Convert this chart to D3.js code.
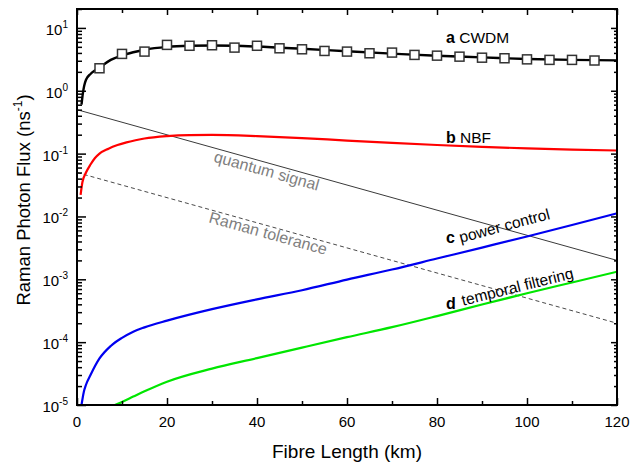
<!DOCTYPE html>
<html>
<head>
<meta charset="utf-8">
<script src="https://cdn.jsdelivr.net/npm/d3@7"></script>
<style>
  html, body { margin: 0; padding: 0; background: #fff; }
  svg { display: block; font-family: "Liberation Sans", Arial, sans-serif; }
</style>
</head>
<body>
<svg id="chart" width="631" height="462"></svg>
<script>
// ---------------- data ----------------
const xTickValues = [0, 20, 40, 60, 80, 100, 120];
const xMinorValues = [10, 30, 50, 70, 90, 110];
const yExponents = [-5, -4, -3, -2, -1, 0, 1];

// (a) CWDM - smooth curve
const cwdmLineKm  = [1, 1.3, 1.6, 2, 3, 4, 5, 7.5, 10, 12.5, 15, 20, 25, 30, 35, 40, 50, 60, 70, 80, 90, 100, 110, 120];
const cwdmLineVal = [0.6, 0.9, 1.2, 1.5, 1.85, 2.1, 2.35, 3.1, 3.65, 4.1, 4.5, 5.0, 5.2, 5.25, 5.2, 5.05, 4.65, 4.25, 3.9, 3.6, 3.4, 3.2, 3.1, 3.05];
// (a) CWDM - measured points (squares)
const cwdmPtsKm  = [5, 10, 15, 20, 25, 30, 35, 40, 45, 50, 55, 60, 65, 70, 75, 80, 85, 90, 95, 100, 105, 110, 115];
const cwdmPtsVal = [2.28, 3.86, 4.2, 5.37, 5.2, 5.3, 4.86, 5.2, 4.74, 4.57, 4.3, 4.2, 3.95, 4.05, 3.72, 3.62, 3.49, 3.36, 3.29, 3.16, 3.1, 3.1, 3.03];

// (b) NBF
const nbfKm  = [0.8, 1.2, 2, 3, 4, 5, 7, 9, 11, 13, 15, 20, 25, 30, 40, 50, 60, 70, 80, 90, 100, 110, 120];
const nbfVal = [0.022, 0.035, 0.05, 0.067, 0.085, 0.1, 0.12, 0.137, 0.151, 0.163, 0.174, 0.19, 0.197, 0.198, 0.19, 0.177, 0.161, 0.148, 0.137, 0.128, 0.121, 0.116, 0.112];

// (c) power control
const powerKm  = [1.0, 1.5, 2, 3, 5, 7.5, 10, 12.5, 15, 20, 30, 40, 50, 60, 70, 80, 90, 100, 110, 120];
const powerVal = [1e-5, 1.6e-5, 2.1e-5, 3.0e-5, 5.5e-5, 8.7e-5, 1.17e-4, 1.47e-4, 1.72e-4, 2.2e-4, 3.35e-4, 4.8e-4, 6.7e-4, 9.9e-4, 1.43e-3, 2.14e-3, 3.2e-3, 4.8e-3, 7.3e-3, 1.12e-2];

// (d) temporal filtering
const temporalKm  = [8.4, 10, 12.5, 15, 20, 30, 40, 50, 60, 70, 80, 90, 100, 110, 120];
const temporalVal = [1e-5, 1.12e-5, 1.36e-5, 1.65e-5, 2.35e-5, 3.8e-5, 5.57e-5, 8.2e-5, 1.2e-4, 1.73e-4, 2.6e-4, 3.97e-4, 6.0e-4, 8.9e-4, 1.32e-3];

// quantum signal & Raman tolerance (straight lines on log axis)
const quantumKm  = [0, 120];
const quantumVal = [0.5, 0.002];
const toleranceKm  = [0, 120];
const toleranceVal = [0.05, 0.0002];

// ---------------- layout ----------------
const svg = d3.select("#chart");
const L = 77, R = 617, T = 9, B = 405;
const x = d3.scaleLinear().domain([0, 120]).range([L, R]);
const y = d3.scaleLog().domain([1e-5, 20]).range([B, T]);

const zip = (a, b) => a.map((d, i) => [d, b[i]]);

svg.append("defs").append("clipPath").attr("id", "clip")
  .append("rect").attr("x", L).attr("y", T).attr("width", R - L).attr("height", B - T);

const plot = svg.append("g").attr("clip-path", "url(#clip)");

const line = d3.line().x(d => x(d[0])).y(d => y(d[1])).curve(d3.curveMonotoneX);
const straight = d3.line().x(d => x(d[0])).y(d => y(d[1]));

plot.append("path").datum(zip(quantumKm, quantumVal)).attr("d", straight)
  .attr("fill", "none").attr("stroke", "#3a3a3a").attr("stroke-width", 1);
plot.append("path").datum(zip(toleranceKm, toleranceVal)).attr("d", straight)
  .attr("fill", "none").attr("stroke", "#4a4a4a").attr("stroke-width", 1).attr("stroke-dasharray", "4,3");

plot.append("path").datum(zip(nbfKm, nbfVal)).attr("d", line)
  .attr("fill", "none").attr("stroke", "#ff0000").attr("stroke-width", 2.2);
plot.append("path").datum(zip(powerKm, powerVal)).attr("d", line)
  .attr("fill", "none").attr("stroke", "#0000f0").attr("stroke-width", 2.2);
plot.append("path").datum(zip(temporalKm, temporalVal)).attr("d", line)
  .attr("fill", "none").attr("stroke", "#00e600").attr("stroke-width", 2.2);
plot.append("path").datum(zip(cwdmLineKm, cwdmLineVal)).attr("d", line)
  .attr("fill", "none").attr("stroke", "#000").attr("stroke-width", 2.4);

const sq = 9;
plot.selectAll("rect.pt").data(zip(cwdmPtsKm, cwdmPtsVal)).enter().append("rect")
  .attr("class", "pt")
  .attr("x", d => x(d[0]) - sq / 2).attr("y", d => y(d[1]) - sq / 2)
  .attr("width", sq).attr("height", sq)
  .attr("fill", "#fff").attr("stroke", "#333").attr("stroke-width", 1.5);

// ---------------- axes ----------------
const yMajor = yExponents.map(e => Math.pow(10, e));
const yMinor = [];
yExponents.forEach(e => { for (let k = 2; k <= 9; k++) { const v = k * Math.pow(10, e); if (v <= 20) yMinor.push(v); } });

function styleAxis(g) {
  g.select(".domain").remove();
  g.selectAll(".tick line").attr("stroke", "#000").attr("stroke-width", 1.5);
  g.selectAll(".tick text").remove();
}

svg.append("g").attr("transform", `translate(0,${B})`)
  .call(d3.axisBottom(x).tickValues(xTickValues).tickSize(-7)).call(styleAxis);
svg.append("g").attr("transform", `translate(0,${B})`)
  .call(d3.axisBottom(x).tickValues(xMinorValues).tickSize(-4)).call(styleAxis);
svg.append("g").attr("transform", `translate(0,${T})`)
  .call(d3.axisTop(x).tickValues(xTickValues).tickSize(-6)).call(styleAxis);
svg.append("g").attr("transform", `translate(0,${T})`)
  .call(d3.axisTop(x).tickValues(xMinorValues).tickSize(-4)).call(styleAxis);

svg.append("g").attr("transform", `translate(${L},0)`)
  .call(d3.axisLeft(y).tickValues(yMajor).tickSize(-9)).call(styleAxis);
svg.append("g").attr("transform", `translate(${L},0)`)
  .call(d3.axisLeft(y).tickValues(yMinor).tickSize(-5)).call(styleAxis);
svg.append("g").attr("transform", `translate(${R},0)`)
  .call(d3.axisRight(y).tickValues(yMajor).tickSize(-6)).call(styleAxis);
svg.append("g").attr("transform", `translate(${R},0)`)
  .call(d3.axisRight(y).tickValues(yMinor).tickSize(-3)).call(styleAxis);

// frame
svg.append("rect").attr("x", L).attr("y", T).attr("width", R - L).attr("height", B - T)
  .attr("fill", "none").attr("stroke", "#000").attr("stroke-width", 2);

// tick labels
svg.append("g").selectAll("text").data(xTickValues).enter().append("text")
  .attr("x", d => x(d)).attr("y", B + 22).attr("text-anchor", "middle")
  .attr("font-size", 15).attr("fill", "#000").text(d => d);

const yl = svg.append("g").selectAll("text").data(yExponents).enter().append("text")
  .attr("x", L - 9).attr("y", d => y(Math.pow(10, d)) + 7)
  .attr("text-anchor", "end").attr("font-size", 15).attr("fill", "#000");
yl.append("tspan").text("10");
yl.append("tspan").attr("font-size", 10).attr("dy", -7).text(d => d < 0 ? "-" + (-d) : String(d));

// axis titles
svg.append("text").attr("x", (L + R) / 2).attr("y", 458).attr("text-anchor", "middle")
  .attr("font-size", 19).attr("fill", "#000").text("Fibre Length (km)");

const yt = svg.append("text").attr("transform", `translate(30,${(T + B) / 2 - 7}) rotate(-90)`)
  .attr("text-anchor", "middle").attr("font-size", 18.5).attr("fill", "#000");
yt.append("tspan").text("Raman Photon Flux (ns");
yt.append("tspan").attr("font-size", 12).attr("dy", -8).text("-1");
yt.append("tspan").attr("dy", 8).text(")");

// annotations
function seriesLabel(letter, rest, km, val) {
  const t = svg.append("text").attr("x", x(km)).attr("y", y(val)).attr("fill", "#000");
  t.append("tspan").attr("font-weight", "bold").attr("font-size", 16).text(letter);
  t.append("tspan").attr("font-size", 15.5).text(" " + rest);
}
seriesLabel("a", "CWDM", 82, 5.7);
seriesLabel("b", "NBF", 82, 0.146);

svg.append("text").attr("x", x(82)).attr("y", y(3.8e-3)).attr("font-weight", "bold")
  .attr("font-size", 16).attr("fill", "#000").text("c");
svg.append("text").attr("transform", `translate(${x(85.3)},${y(3.8e-3)}) rotate(-15)`)
  .attr("font-size", 15.5).attr("fill", "#000").text("power control");

svg.append("text").attr("x", x(82)).attr("y", y(3.4e-4)).attr("font-weight", "bold")
  .attr("font-size", 16).attr("fill", "#000").text("d");
svg.append("text").attr("transform", `translate(${x(85.8)},${y(3.8e-4)}) rotate(-14)`)
  .attr("font-size", 15.5).attr("fill", "#000").text("temporal filtering");

svg.append("text").attr("transform", `translate(${x(30.2)},${y(0.075)}) rotate(15.6)`)
  .attr("font-size", 16).attr("fill", "#808080").text("quantum signal");
svg.append("text").attr("transform", `translate(${x(29.1)},${y(0.0081)}) rotate(15.6)`)
  .attr("font-size", 16).attr("fill", "#808080").text("Raman tolerance");
</script>
</body>
</html>
